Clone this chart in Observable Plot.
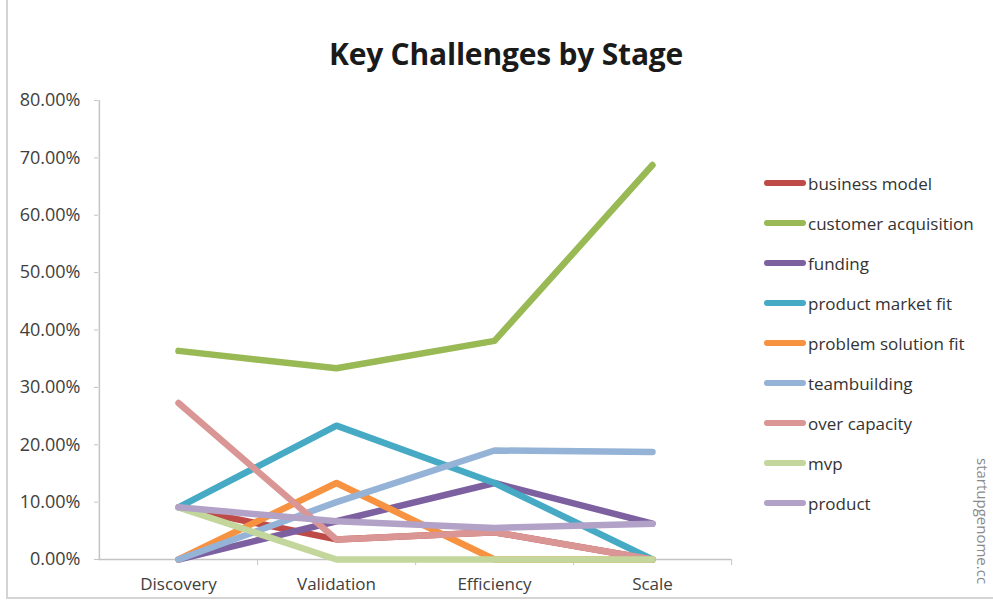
<!DOCTYPE html>
<html>
<head>
<meta charset="utf-8">
<script src="https://cdn.jsdelivr.net/npm/d3@7"></script>
<script src="https://cdn.jsdelivr.net/npm/@observablehq/plot@0.6"></script>
<style>
  html, body { margin: 0; padding: 0; background: #fff; }
  #wrap { position: relative; width: 993px; height: 607px; overflow: hidden; font-family: "Open Sans", sans-serif; }
  #frame { position: absolute; left: 6px; top: -2px; width: 1000px; height: 601px; border-left: 2px solid #d4d4d4; border-bottom: 2px solid #d4d4d4; box-sizing: border-box; pointer-events: none; }
  #title { position: absolute; left: 0; top: 0; width: 1012px; height: 90px; text-align: center; font-weight: 700; font-size: 30px; line-height: 108px; color: #1a1a1a; letter-spacing: -0.2px; }
  #chart { position: absolute; left: 0; top: 90px; }
  #legend { position: absolute; left: 764px; top: 163px; }
  .item { display: flex; align-items: center; height: 40px; font-size: 17px; color: #333; }
  .sw { width: 42px; height: 6px; border-radius: 3px; margin-right: 2px; flex: none; }
  #mark { position: absolute; left: 976px; top: 458px; transform-origin: 0 0; transform: rotate(90deg) translate(0, -17px); font-size: 15px; color: #8a8a8a; white-space: nowrap; }
</style>
</head>
<body>
<div id="wrap">
  <div id="title">Key Challenges by Stage</div>
  <div id="chart"></div>
  <div id="legend"></div>
  <div id="mark">startupgenome.cc</div>
  <div id="frame"></div>
</div>
<script>
// ---- data ----
const stages = ["Discovery", "Validation", "Efficiency", "Scale"];
const seriesNames = ["business model", "customer acquisition", "funding", "product market fit",
  "problem solution fit", "teambuilding", "over capacity", "mvp", "product"];
const seriesColors = ["#BE4B48", "#98B954", "#7D60A0", "#46AAC5", "#F69240", "#95B3D7", "#DA9694", "#C3D69B", "#B3A2C7"];
const businessModel = [0.0909, 0.0350, 0.0476, 0];
const customerAcquisition = [0.3636, 0.3333, 0.3810, 0.6875];
const funding = [0, 0.0667, 0.1333, 0.0625];
const productMarketFit = [0.0909, 0.2333, 0.1333, 0];
const problemSolutionFit = [0, 0.1333, 0, 0];
const teambuilding = [0, 0.1000, 0.1900, 0.1875];
const overCapacity = [0.2727, 0.0350, 0.0476, 0];
const mvp = [0.0909, 0, 0, 0];
const product = [0.0909, 0.0667, 0.0550, 0.0625];
const yTicks = [0, 0.1, 0.2, 0.3, 0.4, 0.5, 0.6, 0.7, 0.8];

const seriesValues = [businessModel, customerAcquisition, funding, productMarketFit,
  problemSolutionFit, teambuilding, overCapacity, mvp, product];

const rows = [];
seriesNames.forEach((name, i) => {
  stages.forEach((stage, j) => rows.push({series: name, stage, value: seriesValues[i][j]}));
});

// ---- layout ----
const W = 745, H = 517, mL = 98, mR = 14, mT = 10, mB = 48;
const step = (W - mL - mR) / stages.length;

const chart = Plot.plot({
  width: W,
  height: H,
  marginLeft: mL,
  marginRight: mR,
  marginTop: mT,
  marginBottom: mB,
  style: {fontFamily: "Open Sans, sans-serif", fontSize: "17px", color: "#404040", background: "transparent", overflow: "visible"},
  x: {type: "point", domain: stages, padding: 0.5, label: null},
  y: {domain: [0, 0.8], label: null},
  color: {domain: seriesNames, range: seriesColors},
  marks: [
    Plot.ruleY([0], {stroke: "#c4c4c4", strokeWidth: 1.5}),
    Plot.ruleX([stages[0]], {dx: -step / 2, y1: 0, y2: 0.8, stroke: "#c4c4c4", strokeWidth: 1.5}),
    Plot.axisY({ticks: yTicks, tickFormat: d3.format(".2%"), tickSize: 4, tickPadding: 14, fontSize: 18, stroke: "#c4c4c4", label: null}),
    Plot.axisX({tickSize: 0, tickPadding: 18, label: null}),
    Plot.axisX({tickSize: 6, tickFormat: () => "", dx: step / 2, stroke: "#c4c4c4", label: null}),
    Plot.line(rows, {x: "stage", y: "value", z: "series", stroke: "series", strokeWidth: 6.5,
      strokeLinecap: "round", strokeLinejoin: "round"})
  ]
});
document.getElementById("chart").appendChild(chart);

// ---- legend ----
const legend = document.getElementById("legend");
seriesNames.forEach((name, i) => {
  const item = document.createElement("div");
  item.className = "item";
  const sw = document.createElement("span");
  sw.className = "sw";
  sw.style.background = seriesColors[i];
  const label = document.createElement("span");
  label.textContent = name;
  item.appendChild(sw);
  item.appendChild(label);
  legend.appendChild(item);
});
</script>
</body>
</html>
